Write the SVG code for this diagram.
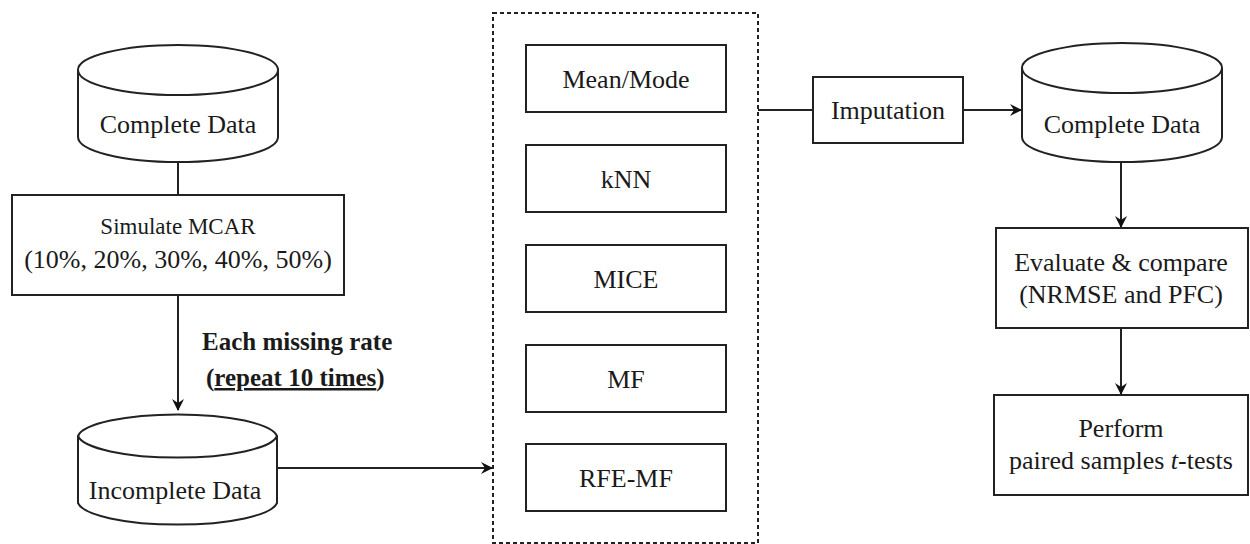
<svg xmlns="http://www.w3.org/2000/svg" width="1250" height="544" viewBox="0 0 1250 544">
<style>
.shape{fill:#fff;stroke:#222;stroke-width:2}
.t{font-family:"Liberation Serif","Times New Roman",serif;font-size:26px;fill:#1a1a1a;text-anchor:middle}
.b{font-weight:bold;text-anchor:start}
.c{fill:none;stroke:#222;stroke-width:2}
</style>
<defs>
<marker id="ah" markerWidth="12" markerHeight="12" refX="11" refY="6" orient="auto" markerUnits="userSpaceOnUse">
<path d="M0,0 L12,6 L0,12 L4,6 Z" fill="#111"/>
</marker>
</defs>
<rect width="1250" height="544" fill="#fff"/>
<g id="connectors">
<line class="c" x1="178" y1="162" x2="178" y2="195"/>
<line class="c" x1="178" y1="295" x2="178" y2="410" marker-end="url(#ah)"/>
<line class="c" x1="277" y1="468" x2="492" y2="468" marker-end="url(#ah)"/>
<line class="c" x1="758" y1="110" x2="813" y2="110"/>
<line class="c" x1="963" y1="110" x2="1021" y2="110" marker-end="url(#ah)"/>
<line class="c" x1="1121" y1="162" x2="1121" y2="227" marker-end="url(#ah)"/>
<line class="c" x1="1121" y1="328" x2="1121" y2="394" marker-end="url(#ah)"/>
</g>
<g id="complete-data-1">
<path class="shape" d="M78,70 L78,137 A100,25 0 0 0 278,137 L278,70 A100,25 0 0 0 78,70 Z"/>
<path class="c" d="M78,70 A100,25 0 0 0 278,70"/>
<text class="t" x="178" y="133">Complete Data</text>
</g>
<g id="simulate-mcar">
<rect class="shape" x="12" y="195" width="332" height="100"/>
<text class="t" x="178" y="234" style="font-size:23px">Simulate MCAR</text>
<text class="t" x="178" y="268">(10%, 20%, 30%, 40%, 50%)</text>
</g>
<g id="label-repeat">
<text class="t b" x="202" y="350" style="font-size:25px">Each missing rate</text>
<text class="t b" x="206" y="386" style="font-size:25px">(<tspan text-decoration="underline">repeat 10 times</tspan>)</text>
</g>
<g id="incomplete-data">
<path class="shape" d="M78,436 L78,503 A100,24 0 0 0 277,503 L277,436 A100,24 0 0 0 78,436 Z"/>
<path class="c" d="M78,436 A100,24 0 0 0 277,436"/>
<text class="t" x="175" y="499">Incomplete Data</text>
</g>
<g id="methods-group">
<rect x="493" y="13" width="265" height="530" fill="none" stroke="#222" stroke-width="2" stroke-dasharray="4,3"/>
</g>
<g id="mean-mode">
<rect class="shape" x="526" y="45" width="200" height="67"/>
<text class="t" x="626" y="88">Mean/Mode</text>
</g>
<g id="knn">
<rect class="shape" x="526" y="145" width="200" height="67"/>
<text class="t" x="626" y="188">kNN</text>
</g>
<g id="mice">
<rect class="shape" x="526" y="245" width="200" height="67"/>
<text class="t" x="626" y="288">MICE</text>
</g>
<g id="mf">
<rect class="shape" x="526" y="345" width="200" height="67"/>
<text class="t" x="626" y="388">MF</text>
</g>
<g id="rfe-mf">
<rect class="shape" x="526" y="444" width="200" height="67"/>
<text class="t" x="626" y="487">RFE-MF</text>
</g>
<g id="imputation">
<rect class="shape" x="813" y="77" width="150" height="66"/>
<text class="t" x="888" y="119">Imputation</text>
</g>
<g id="complete-data-2">
<path class="shape" d="M1022,68 L1022,137 A100,25 0 0 0 1222,137 L1222,68 A100,25 0 0 0 1022,68 Z"/>
<path class="c" d="M1022,68 A100,25 0 0 0 1222,68"/>
<text class="t" x="1122" y="133">Complete Data</text>
</g>
<g id="evaluate">
<rect class="shape" x="996" y="228" width="252" height="100"/>
<text class="t" x="1121" y="271">Evaluate &amp; compare</text>
<text class="t" x="1121" y="303">(NRMSE and PFC)</text>
</g>
<g id="perform">
<rect class="shape" x="994" y="395" width="254" height="100"/>
<text class="t" x="1121" y="437">Perform</text>
<text class="t" x="1121" y="469">paired samples <tspan font-style="italic">t</tspan>-tests</text>
</g>
</svg>
